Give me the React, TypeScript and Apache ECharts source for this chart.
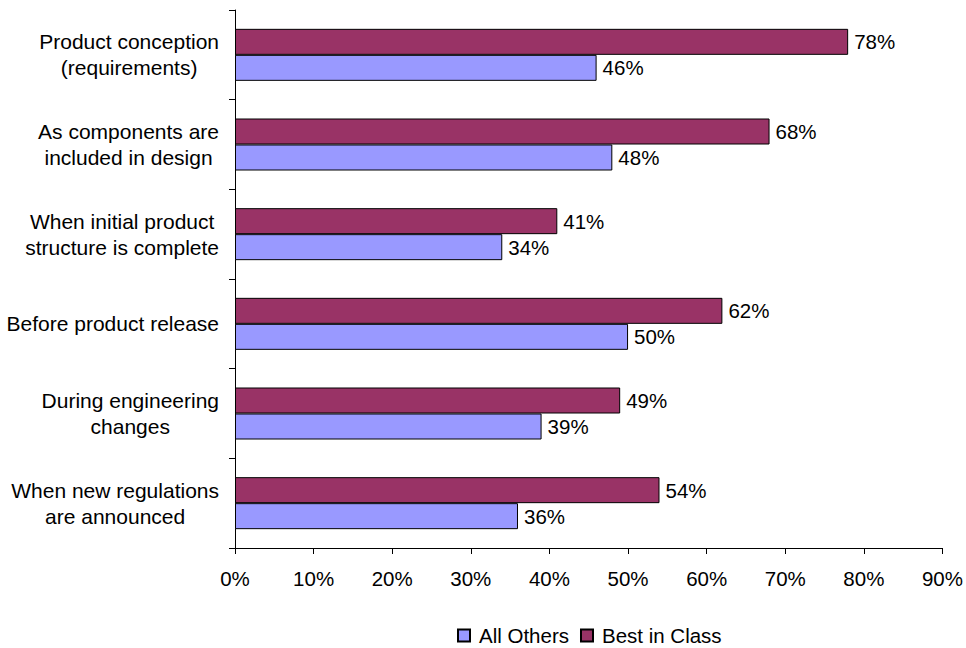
import React, { useEffect, useRef } from "react";
import * as echarts from "echarts";

const categories = [
  "Product conception\n(requirements)",
  "As components are\nincluded in design",
  "When initial product\nstructure is complete",
  "Before product release",
  "During engineering\nchanges",
  "When new regulations\nare announced",
];
const bestInClass = [78, 68, 41, 62, 49, 54];
const allOthers = [46, 48, 34, 50, 39, 36];
const xTicks = { min: 0, max: 90, interval: 10 };

const FONT = "'Liberation Sans', Arial, sans-serif";
const FS = 20.5;
const CAT_FS = 21;

export default function App() {
  const ref = useRef<HTMLDivElement>(null);

  useEffect(() => {
    if (!ref.current) return;
    const chart = echarts.init(ref.current, undefined, { renderer: "svg" });
    const label = {
      show: true,
      position: "right" as const,
      distance: 6,
      formatter: "{c}%",
      color: "#000",
      fontSize: FS,
      fontFamily: FONT,
    };
    chart.setOption({
      animation: false,
      backgroundColor: "#fff",
      textStyle: { fontFamily: FONT },
      grid: { left: 235, right: 20, top: 10, bottom: 100, containLabel: false },
      legend: {
        data: ["All Others", "Best in Class"],
        left: 457,
        top: 625,
        padding: 0,
        itemWidth: 12,
        itemHeight: 12,
        itemGap: 11,
        icon: "rect",
        textStyle: { fontSize: FS, fontFamily: FONT, color: "#000", padding: [0, 0, 0, 4] },
      },
      xAxis: {
        type: "value",
        min: xTicks.min,
        max: xTicks.max,
        interval: xTicks.interval,
        axisLine: { show: true, lineStyle: { color: "#000", width: 1 } },
        axisTick: { show: true, length: 6, lineStyle: { color: "#000" } },
        splitLine: { show: false },
        axisLabel: {
          formatter: "{value}%",
          margin: 20,
          color: "#000",
          fontSize: FS,
          fontFamily: FONT,
        },
      },
      yAxis: {
        type: "category",
        data: categories,
        inverse: true,
        axisLine: { show: true, lineStyle: { color: "#000", width: 1 } },
        axisTick: { show: true, length: 6, lineStyle: { color: "#000" } },
        axisLabel: {
          margin: 16,
          color: "#000",
          formatter: (v: string) =>
            v
              .split("\n")
              .map((l) => `{c|${l}}`)
              .join("\n"),
          rich: {
            c: {
              align: "center",
              fontSize: CAT_FS,
              fontFamily: FONT,
              lineHeight: 26,
              color: "#000",
            },
          },
        },
      },
      series: [
        {
          name: "Best in Class",
          type: "bar",
          data: bestInClass,
          barWidth: 26,
          barGap: "0%",
          itemStyle: { color: "#993366", borderColor: "#000", borderWidth: 1 },
          label,
        },
        {
          name: "All Others",
          type: "bar",
          data: allOthers,
          barWidth: 26,
          barGap: "0%",
          itemStyle: { color: "#9999FF", borderColor: "#000", borderWidth: 1 },
          label,
        },
      ],
    });
    return () => chart.dispose();
  }, []);

  return (
    <div
      ref={ref}
      style={{ position: "absolute", left: 0, top: 0, width: 966, height: 648, background: "#fff" }}
    />
  );
}
